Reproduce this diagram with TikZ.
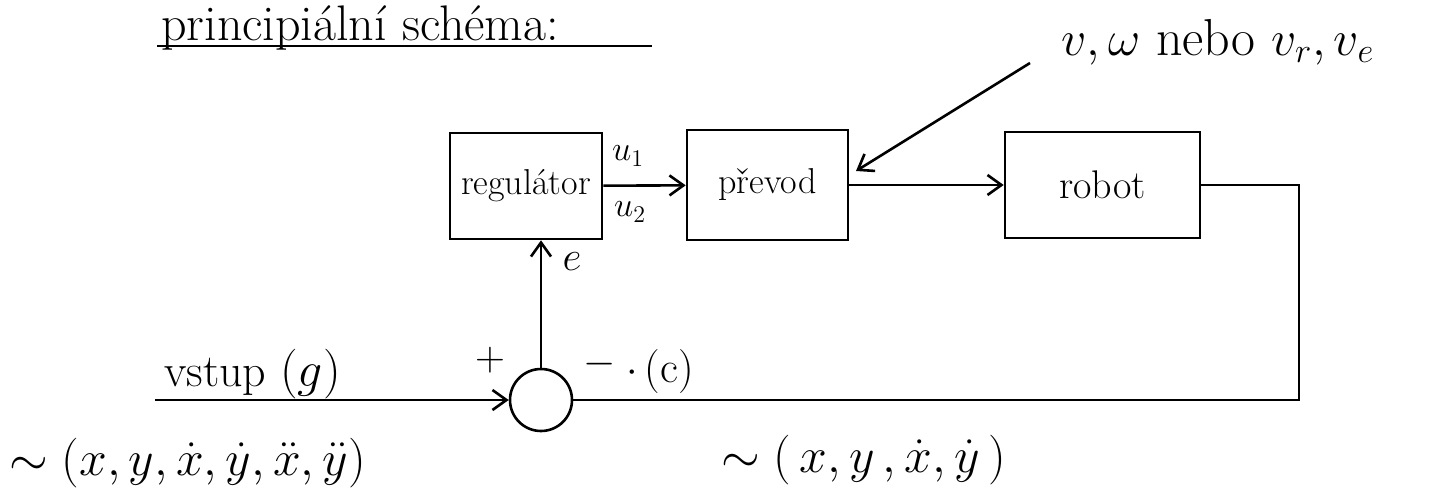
\documentclass[tikz,border=0pt]{standalone}
\usetikzlibrary{arrows.meta}
\newcommand{\fsz}[1]{\fontsize{#1}{#1}\selectfont}
\begin{document}
\begin{tikzpicture}[x=0.5pt,y=-0.5pt,line width=1.3pt,
  blk/.style={draw,inner sep=0pt},
  sumnode/.style={draw,circle,minimum size=31pt,inner sep=0pt},
  arr/.style={-{Straight Barb[length=7pt,width=10pt,line width=1.3pt]}},
  lbl/.style={inner sep=0pt}]
\useasboundingbox (0,0) rectangle (1434,499);
% title
\node[lbl,anchor=base west] (title) at (160,40) {\fsz{25}principiální schéma:};
\coordinate (ulA) at (157,46);
\coordinate (ulB) at (652,46);
\draw[line width=1pt] (ulA) -- (ulB);
% blocks
\node[blk,minimum width=76pt,minimum height=53pt] (reg) at (526,186) {\fsz{18}regulátor};
\node[blk,minimum width=80.5pt,minimum height=55pt] (prev) at (767.5,185) {\fsz{18}převod};
\node[blk,minimum width=97.5pt,minimum height=53pt] (rob) at (1102.5,185) {\fsz{20}robot};
\node[sumnode] (sum) at (541,400) {};
% connectors
\draw[arr] (reg) -- (prev);
\draw[arr] (prev) -- (rob);
\coordinate (c1) at (1299,185);
\coordinate (c2) at (1299,400);
\draw (rob.east) -- (c1) -- (c2) -- (sum.east);
\draw[arr] (sum.north) -- (sum.north |- reg.south);
\coordinate (in) at (155,400);
\draw[arr] (in) -- (sum.west);
\coordinate (vw) at (1030,63);
\coordinate (tip) at (856,171);
\draw[arr] (vw) -- (tip);
% labels
\node[lbl] (u1) at (628,156) {\fsz{18}$u_1$};
\node[lbl] (u2) at (630,212) {\fsz{18}$u_2$};
\node[lbl] (e) at (572,262) {\fsz{22}$e$};
\node[lbl] (plus) at (490,360) {\fsz{22}$+$};
\node[lbl] (minus) at (600,364) {\fsz{22}$-$};
\node[lbl] (c) at (660,372) {\fsz{22}$\cdot\,$(c)};
\node[lbl,anchor=base west] (vstup) at (163,386) {\fsz{23}vstup $(g)$};
\node[lbl,anchor=west] (vin) at (8,463) {\fsz{27}$\sim(x, y, \dot x, \dot y, \ddot x, \ddot y)$};
\node[lbl,anchor=west] (vout) at (720,460) {\fsz{27}$\sim(\,x, y\,, \dot x, \dot y\,)$};
\node[lbl,anchor=west] (vwl) at (1060,42) {\fsz{26}$v, \omega$ nebo $v_r, v_e$};
\end{tikzpicture}
\end{document}
